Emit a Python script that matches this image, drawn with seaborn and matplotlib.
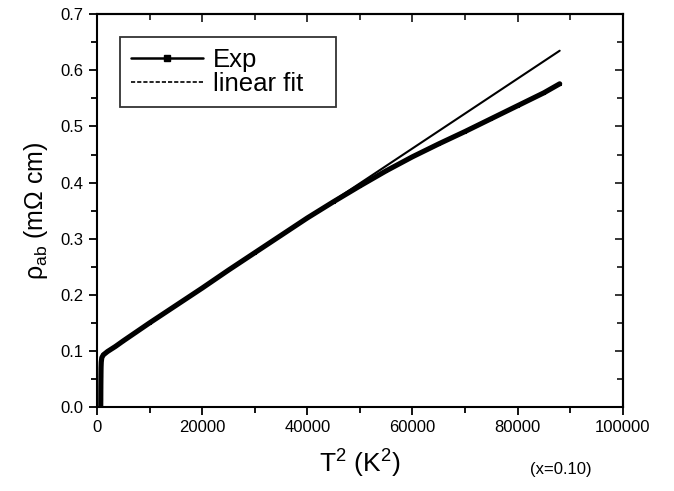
import matplotlib
matplotlib.use("Agg")
import matplotlib.pyplot as plt
import seaborn as sns
import pandas as pd
from matplotlib.lines import Line2D
from matplotlib.ticker import MultipleLocator

sns.set_theme(style="white")
plt.rcParams['font.family'] = ['Liberation Sans', 'DejaVu Sans']
plt.rcParams['mathtext.fontset'] = 'custom'
plt.rcParams['mathtext.rm'] = 'Liberation Sans'
plt.rcParams['mathtext.it'] = 'Liberation Sans:italic'
plt.rcParams['text.color'] = 'black'
plt.rcParams['axes.labelcolor'] = 'black'

# Experimental data: T^2 (K^2) and rho_ab (mOhm cm)
exp_t2 = [700, 710, 720, 740, 760, 800, 900, 1200, 2000, 3500, 5000, 7500,
          10000, 15000, 20000, 25000, 30000, 35000, 40000, 45000, 50000,
          55000, 60000, 65000, 70000, 75000, 80000, 85000, 88000]
exp_rho = [0.0, 0.015, 0.035, 0.055, 0.070, 0.080, 0.088, 0.093, 0.099, 0.108,
           0.118, 0.134, 0.150, 0.181, 0.212, 0.244, 0.275, 0.306, 0.337,
           0.366, 0.394, 0.421, 0.446, 0.469, 0.491, 0.514, 0.537, 0.560, 0.576]

# Linear fit endpoints
fit_t2 = [1000, 88000]
fit_rho = [0.094, 0.635]

df_exp = pd.DataFrame({"T2": exp_t2, "rho": exp_rho})
df_fit = pd.DataFrame({"T2": fit_t2, "rho": fit_rho})

fig = plt.figure(figsize=(6.74, 4.91), dpi=100)
ax = fig.add_axes([0.144, 0.171, 0.780, 0.800])

sns.lineplot(data=df_fit, x="T2", y="rho", ax=ax, color="black", lw=1.5,
             sort=False, estimator=None)
sns.lineplot(data=df_exp, x="T2", y="rho", ax=ax, color="black", lw=3.7,
             sort=False, estimator=None, marker="s", markersize=2,
             markeredgecolor="black", solid_joinstyle="round",
             solid_capstyle="round")

ax.set_xlim(0, 100000)
ax.set_ylim(0, 0.7)
ax.xaxis.set_major_locator(MultipleLocator(20000))
ax.xaxis.set_minor_locator(MultipleLocator(10000))
ax.yaxis.set_major_locator(MultipleLocator(0.1))
ax.yaxis.set_minor_locator(MultipleLocator(0.05))
ax.set_xticklabels([f"{int(v)}" for v in ax.get_xticks()])
ax.set_yticklabels([f"{v:.1f}" for v in ax.get_yticks()])

for s in ax.spines.values():
    s.set_linewidth(1.5)
    s.set_color("black")

ax.tick_params(which="both", direction="out", bottom=True, left=True,
               top=False, right=False, labelsize=12, colors="black", width=1.3)
ax.tick_params(which="major", length=6)
ax.tick_params(which="minor", length=4)

# mirrored inward ticks on top/right
axt = ax.secondary_xaxis("top")
axt.xaxis.set_major_locator(MultipleLocator(20000))
axt.xaxis.set_minor_locator(MultipleLocator(10000))
axt.tick_params(which="both", direction="in", labeltop=False, width=1.3)
axt.tick_params(which="major", length=6)
axt.tick_params(which="minor", length=4)
axt.spines["top"].set_linewidth(1.5)
axr = ax.secondary_yaxis("right")
axr.yaxis.set_major_locator(MultipleLocator(0.1))
axr.yaxis.set_minor_locator(MultipleLocator(0.05))
axr.tick_params(which="both", direction="in", labelright=False, width=1.3)
axr.tick_params(which="major", length=6)
axr.tick_params(which="minor", length=4)
axr.spines["right"].set_linewidth(1.5)

ax.set_xlabel("T$^2$ (K$^2$)", fontsize=19, labelpad=9)
ax.set_ylabel("ρ$_{\\rm ab}$ (mΩ cm)", fontsize=18, labelpad=8)

fig.text(0.832, 0.043, "(x=0.10)", fontsize=12, ha="center", va="center")

handles = [Line2D([], [], color="black", lw=1.8, marker="s", markersize=4),
           Line2D([], [], color="black", lw=1.2, linestyle=(0, (2.5, 1.2)))]
leg = ax.legend(handles, ["Exp", "linear fit"], loc="upper left",
                bbox_to_anchor=(0.044, 0.774, 0.411, 0.168), mode="expand",
                fontsize=18.5, frameon=True,
                fancybox=False, edgecolor="black", handlelength=2.8,
                handletextpad=0.4, borderpad=0.42, labelspacing=0.0,
                borderaxespad=0)
leg.get_frame().set_linewidth(1.3)

fig.savefig("out.png", dpi=100)
